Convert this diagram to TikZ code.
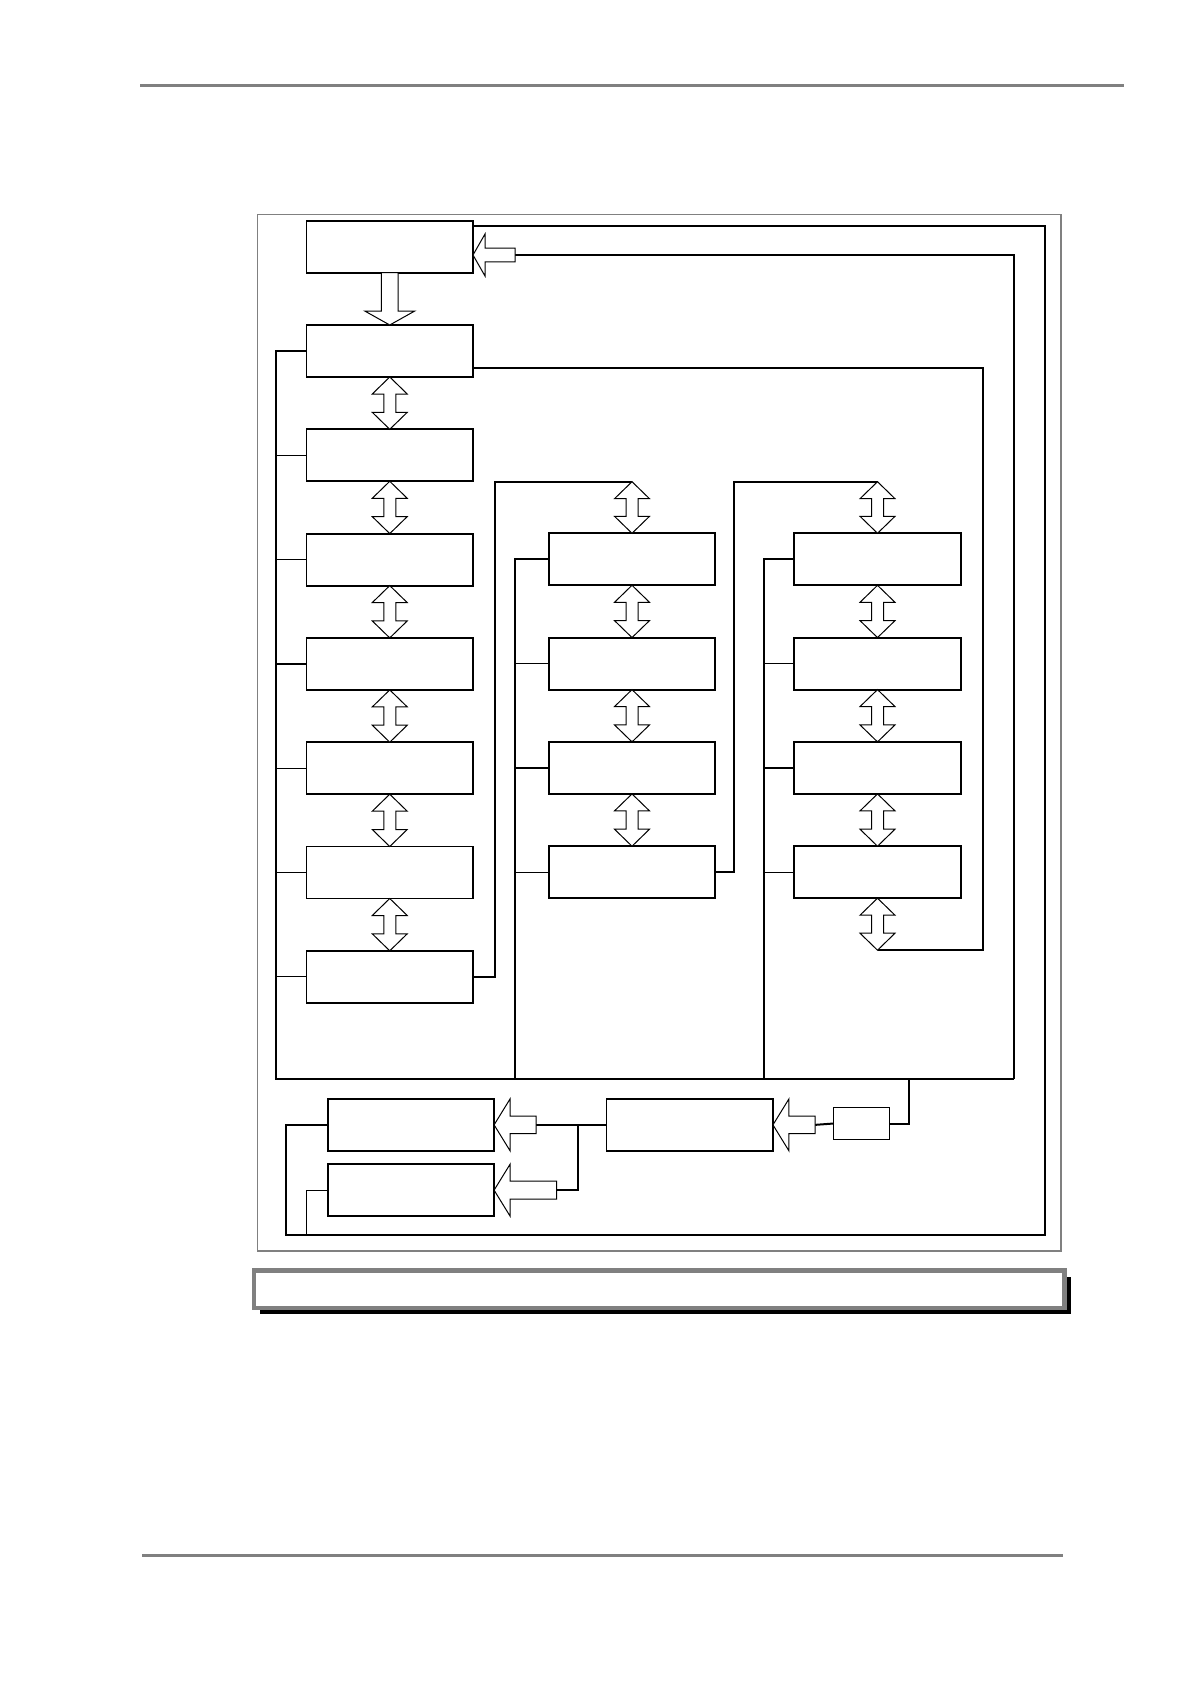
\documentclass[tikz,border=0pt]{standalone}
\usepackage{tikz}
\usetikzlibrary{positioning}
\usetikzlibrary{calc}
\usetikzlibrary{shadows}
\definecolor{mygray}{RGB}{128,128,128}
\newcommand\myblock[3][]{%
  \node[myblock,#1] (#2) {#3};
}
\newcommand\updown[2]{%
  \draw[hollow] let \p1=(#1), \p2=(#2) in
    (\p1) -- ({\x1+17.5pt},{\y1-17pt}) -- ({\x1+6pt},{\y1-17pt}) -- ({\x1+6pt},{\y2+17pt})
    -- ({\x1+17.5pt},{\y2+17pt}) -- (\p2) -- ({\x1-17.5pt},{\y2+17pt}) -- ({\x1-6pt},{\y2+17pt})
    -- ({\x1-6pt},{\y1-17pt}) -- ({\x1-17.5pt},{\y1-17pt}) -- cycle;
}
\newcommand\fatleft[5]{%
  \draw[hollow] let \p1=(#1), \p2=(#2) in
    (\p1) -- ({\x1+#3},{\y1+#4}) -- ({\x1+#3},{\y1+#5}) -- ({\x2},{\y1+#5})
    -- ({\x2},{\y1-#5}) -- ({\x1+#3},{\y1-#5}) -- ({\x1+#3},{\y1-#4}) -- cycle;
}
\newcommand\fatdown[5]{%
  \draw[hollow] let \p1=(#1), \p2=(#2) in
    (\p1) -- ({\x1+#4},{\y1+#3}) -- ({\x1+#5},{\y1+#3}) -- ({\x1+#5},{\y2})
    -- ({\x1-#5},{\y2}) -- ({\x1-#5},{\y1+#3}) -- ({\x1-#4},{\y1+#3}) -- cycle;
}

\begin{document}
\begin{tikzpicture}[
x=1pt, y=-1pt,
node distance=52.3pt,
myblock/.style={
  rectangle,
  draw,
  line width=1.8pt,
  minimum width=166.5pt,
  minimum height=52pt,
  inner sep=0pt,
  outer sep=0pt},
smallblock/.style={
  myblock,
  line width=1.3pt,
  minimum width=55.6pt,
  minimum height=31.6pt},
capbox/.style={
  draw=mygray,
  fill=white,
  line width=4.3pt,
  minimum width=810.4pt,
  minimum height=37.3pt,
  inner sep=0pt,
  outer sep=0pt,
  general shadow={shadow xshift=6pt, shadow yshift=-6pt, fill=black}},
hollow/.style={draw, fill=white, line width=1pt, line join=miter},
bus/.style={line width=2pt},
stub/.style={line width=1.3pt}
]
\useasboundingbox (0,0) rectangle (1191,1684);
\draw[mygray, line width=2.7pt] (140,85.3) -- (1124,85.3);
\draw[mygray, line width=2.7pt] (142,1555.3) -- (1062.7,1555.3);
\draw[mygray, line width=1.4pt] (257.3,214.3) rectangle (1061,1251);
\node[capbox] (caption) at (659.3,1289.2) {};

\myblock[at={(389.75,246.7)}]{s1}{}
\myblock[below=of s1]{s2}{}
\myblock[below=of s2]{s3}{}
\myblock[below=of s3]{s4}{}
\myblock[below=of s4]{s5}{}
\myblock[below=of s5]{s6}{}
\myblock[below=of s6]{s7}{}
\myblock[below=of s7]{s8}{}
\myblock[at={(632,559.3)}]{m1}{}
\myblock[below=of m1]{m2}{}
\myblock[below=of m2]{m3}{}
\myblock[below=of m3]{m4}{}
\myblock[at={(877.5,559.3)}]{n1}{}
\myblock[below=of n1]{n2}{}
\myblock[below=of n2]{n3}{}
\myblock[below=of n3]{n4}{}
\myblock[at={(410.85,1124.85)}]{o1}{}
\myblock[below=13.3pt of o1]{o2}{}
\myblock[at={(689.7,1124.85)}]{ctl}{}
\node[smallblock] (src) at (861.4,1123.5) {};

\coordinate (busL) at (275.7,1078.7);
\coordinate (busM) at (514.7,1078.7);
\coordinate (busN) at (764,1078.7);
\coordinate (busS) at (908.7,1078.7);
\coordinate (busR) at (1013.7,1078.7);
\coordinate (j1) at (495,481.7);
\coordinate (m0) at (632,481.7);
\coordinate (j2) at (734,481.7);
\coordinate (n0) at (877.5,481.7);
\coordinate (n5) at (877.5,950.2);
\coordinate (k1) at (982.7,950.2);
\coordinate (intail) at (515,255);
\coordinate (loopR) at (1045.3,1235);
\coordinate (loopL) at (286,1235);
\coordinate (loopB) at (306.5,1235);
\coordinate (ctail) at (815.2,1124.85);
\coordinate (atail) at (536,1124.85);
\coordinate (btail) at (556.5,1190.3);
\coordinate (jab) at (578,1124.85);

\draw[bus] (s2.west) -| (busL) -- (busR);
\draw[bus] (busR) |- (intail);
\foreach \n in {s3,s4,s5,s6,s7,s8} {\draw[stub] (\n.west) -- (\n.west -| busL);}
\draw[bus] (m1.west) -| (busM);
\foreach \n in {m2,m3,m4} {\draw[stub] (\n.west) -- (\n.west -| busM);}
\draw[bus] (n1.west) -| (busN);
\foreach \n in {n2,n3,n4} {\draw[stub] (\n.west) -- (\n.west -| busN);}
\draw[bus] (s8.east) -| (j1) -- (m0);
\draw[bus] (m4.east) -| (j2) -- (n0);
\draw[bus] ([yshift=-17pt]s2.east) -| (k1) -- (n5);
\draw[bus] ([yshift=21pt]s1.east) -| (loopR) -- (loopL) |- (o1.west);
\draw[stub] (loopB) |- (o2.west);
\draw[bus] (src.east) -| (busS);
\draw[bus] (src.west) -- (ctail);
\draw[bus] (ctl.west) -- (atail);
\draw[bus] (jab) |- (btail);

\fatdown{s2.north}{s1.south}{14pt}{25pt}{8.3pt}
\fatleft{[yshift=-8.3pt]s1.east}{intail}{12pt}{21pt}{6.85pt}
\fatleft{o1.east}{atail}{16pt}{26pt}{8.8pt}
\fatleft{o2.east}{btail}{16pt}{26pt}{9pt}
\fatleft{ctl.east}{ctail}{16pt}{26pt}{8.8pt}
\foreach \a/\b in {s2/s3,s3/s4,s4/s5,s5/s6,s6/s7,s7/s8,m1/m2,m2/m3,m3/m4,n1/n2,n2/n3,n3/n4} {
  \updown{\a.south}{\b.north}
}
\updown{m0}{m1.north}
\updown{n0}{n1.north}
\updown{n4.south}{n5}
\end{tikzpicture}
\end{document}
